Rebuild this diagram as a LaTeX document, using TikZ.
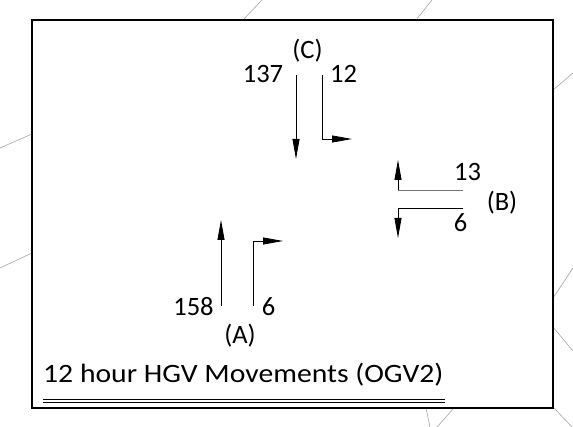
\documentclass[tikz,border=0pt]{standalone}
\usepackage{fontspec}
\setmainfont{Carlito}
\usetikzlibrary{arrows.meta}
\begin{document}
\begin{tikzpicture}[x=1pt,y=-1pt,
  lbl/.style={font=\fontsize{26.5}{30}\selectfont, inner sep=0pt, anchor=base},
  flow/.style={line width=0.8pt, -{Triangle[length=20pt,width=7pt]}},
  mapline/.style={line width=0.6pt, draw=black!35},
  frame/.style={line width=2.5pt, draw=black}]
  \useasboundingbox (0,0) rectangle (573,427);
  \fill[white] (0,0) rectangle (573,427);

  % background map lines outside the frame
  \draw[mapline] (243,20) -- (262,0);
  \draw[mapline] (416,20) -- (432,0);
  \draw[mapline] (32,134) -- (0,148);
  \draw[mapline] (32,253) -- (0,268);
  \draw[mapline] (553,90) -- (573,73);
  \draw[mapline] (553,298) -- (573,268);
  \draw[mapline] (553,327) -- (573,351);
  \draw[mapline] (553,407) -- (573,428);
  \draw[mapline] (426,408) -- (430,427);
  \draw[mapline] (437,427) -- (454,408);

  % frame
  \draw[frame, fill=white] (32,20) rectangle (553,408);

  % arm C (north)
  \node[lbl] (c) at (307.5,58.5) {(C)};
  \node[lbl] (c137) at (263,83) {137};
  \node[lbl] (c12) at (343.5,83) {12};
  \coordinate (c1s) at (296,75);
  \coordinate (c1e) at (296,159);
  \coordinate (c2s) at (322,75);
  \coordinate (c2k) at (322,139);
  \coordinate (c2e) at (352,139);
  \draw[flow] (c1s) -- (c1e);
  \draw[flow] (c2s) -- (c2k) -- (c2e);

  % arm B (east)
  \node[lbl] (b) at (502,210.5) {(B)};
  \node[lbl] (b13) at (467.5,181) {13};
  \node[lbl] (b6) at (460.5,232) {6};
  \coordinate (b1s) at (463,190);
  \coordinate (b1k) at (398,190);
  \coordinate (b1e) at (398,160);
  \coordinate (b2s) at (463,208);
  \coordinate (b2k) at (398,208);
  \coordinate (b2e) at (398,238);
  \draw[line width=0.8pt, draw=black!55] (b1s) -- (b1k);
  \draw[flow] (b1k) -- (b1e);
  \draw[flow] (b2s) -- (b2k) -- (b2e);

  % arm A (south)
  \node[lbl] (a) at (240,343.5) {(A)};
  \node[lbl] (a158) at (193.5,316) {158};
  \node[lbl] (a6) at (268.5,316) {6};
  \coordinate (a1s) at (221,306);
  \coordinate (a1e) at (221,220);
  \coordinate (a2s) at (253,306);
  \coordinate (a2k) at (253,241);
  \coordinate (a2e) at (283,241);
  \draw[flow] (a1s) -- (a1e);
  \draw[flow] (a2s) -- (a2k) -- (a2e);

  % title with double underline
  \node[lbl, anchor=base west] (title) at (43,383) {\scalebox{1.12}[1]{12 hour HGV Movements (OGV2)}};
  \coordinate (ul1s) at (43,399.5);
  \coordinate (ul1e) at (445,399.5);
  \coordinate (ul2s) at (43,402.5);
  \coordinate (ul2e) at (445,402.5);
  \draw[line width=1pt] (ul1s) -- (ul1e);
  \draw[line width=1pt] (ul2s) -- (ul2e);
\end{tikzpicture}
\end{document}
